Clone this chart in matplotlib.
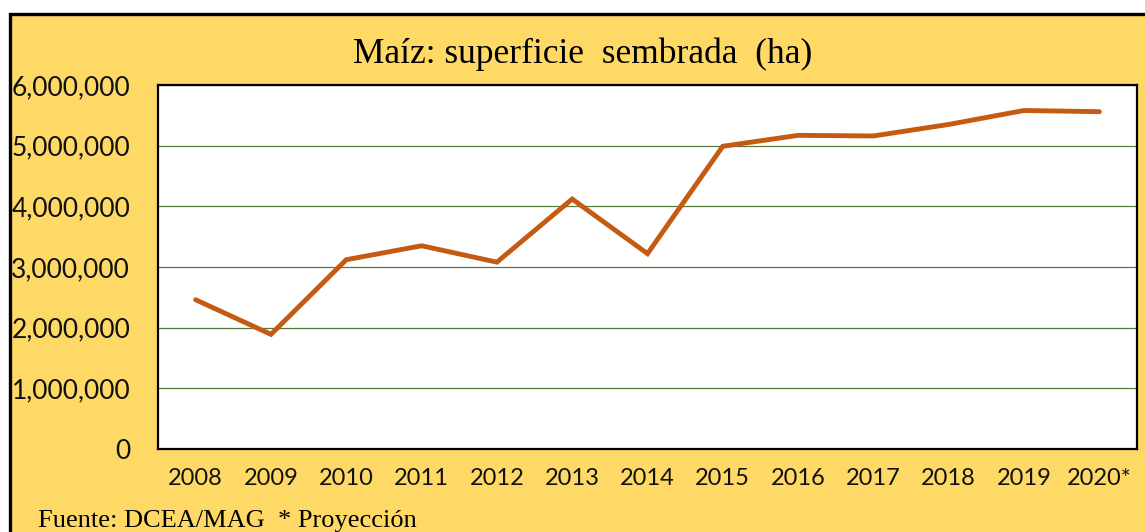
import matplotlib
matplotlib.use('Agg')
import matplotlib.pyplot as plt
from matplotlib.patches import Rectangle
from matplotlib.ticker import FuncFormatter

years = ['2008', '2009', '2010', '2011', '2012', '2013', '2014',
         '2015', '2016', '2017', '2018', '2019', '2020*']
area_ha = [2460000, 1890000, 3120000, 3350000, 3080000, 4120000, 3220000,
           4990000, 5170000, 5160000, 5350000, 5580000, 5560000]

W, H = 1145, 532
fig = plt.figure(figsize=(W / 100, H / 100), dpi=100)
fig.patch.set_facecolor('white')

# yellow chart area with black frame (cropped on the right/bottom)
frame = Rectangle((9.5 / W, -0.1), 2.0, (1 - 14 / H) + 0.1,
                  transform=fig.transFigure, facecolor='#FFD966',
                  edgecolor='black', lw=2.4, zorder=0)
fig.add_artist(frame)

ax = fig.add_axes([158 / W, 1 - 449 / H, (1137 - 158) / W, (449 - 85) / H])
ax.set_facecolor('white')
ax.set_zorder(2)

x = list(range(len(years)))
ax.plot(x, area_ha, color='#C55A11', lw=3.5, solid_capstyle='round',
        solid_joinstyle='miter', zorder=3)

ax.set_xlim(-0.5, len(years) - 0.5)
ax.set_ylim(0, 6000000)
ax.set_yticks(range(0, 6000001, 1000000))
ax.yaxis.set_major_formatter(FuncFormatter(lambda v, p: f'{int(v):,}'))
ax.set_xticks(x)
ax.set_xticklabels(years)
ax.grid(axis='y', color='#557A3A', lw=0.9)
ax.set_axisbelow(True)

for s in ax.spines.values():
    s.set_color('black')
    s.set_linewidth(1.6)

ax.tick_params(axis='y', length=0, pad=20, labelsize=19)
ax.tick_params(axis='x', length=0, pad=14, labelsize=17)
for lab in ax.get_yticklabels() + ax.get_xticklabels():
    lab.set_fontfamily('Lato')
    lab.set_color('#111111')

fig.text(583 / W, 1 - 54 / H, 'Maíz: superficie  sembrada  (ha)',
         ha='center', va='center', fontsize=25.5, family='Liberation Serif')
fig.text(38 / W, 1 - 527 / H, 'Fuente: DCEA/MAG  * Proyección',
         ha='left', va='baseline', fontsize=19, family='Liberation Serif')

plt.savefig('out.png', dpi=100)
